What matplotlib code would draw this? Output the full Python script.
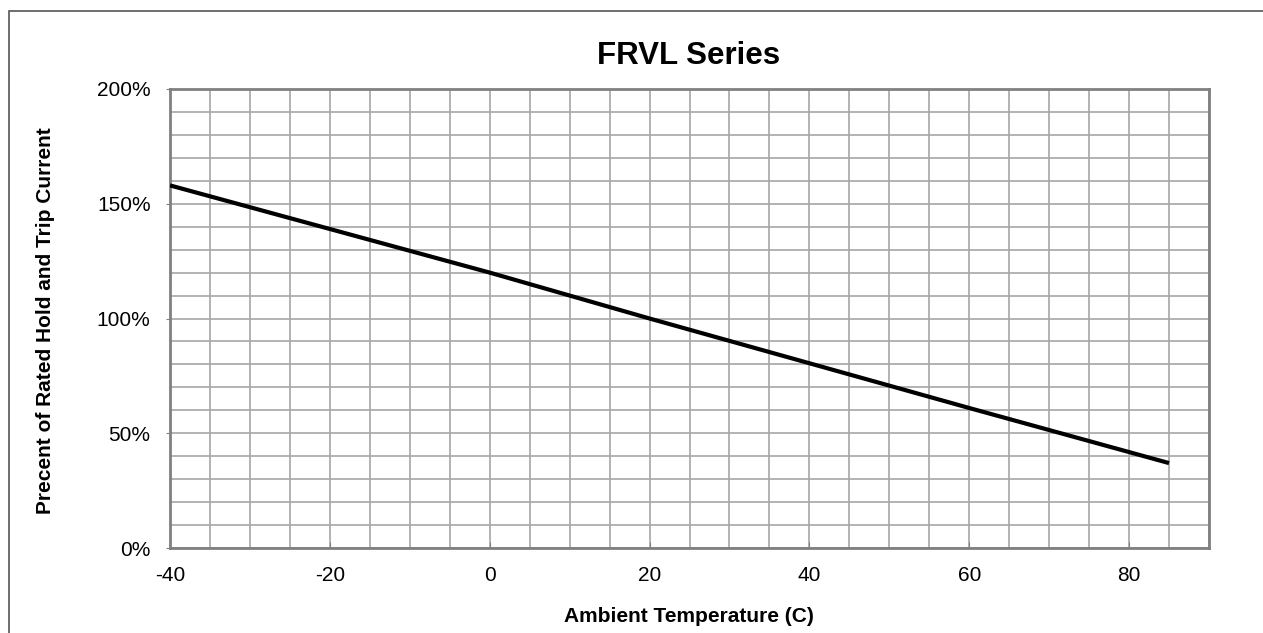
import matplotlib
matplotlib.use("Agg")
from matplotlib import pyplot as plt
from matplotlib.patches import Rectangle

plt.rcParams['font.family'] = ['Liberation Sans', 'DejaVu Sans']
plt.rcParams['axes.unicode_minus'] = False

# data
temps = [-40, -20, 0, 20, 40, 60, 85]
percent = [158, 139, 120, 100, 80.5, 61, 37]

xticks = [-40, -20, 0, 20, 40, 60, 80]
yticks = [0, 50, 100, 150, 200]
ytick_labels = ["0%", "50%", "100%", "150%", "200%"]

fig = plt.figure(figsize=(12.63, 6.33), dpi=100)
ax = fig.add_axes([170/1263, 1-548/633, (1209-170)/1263, (548-89)/633])

# outer frame (cropped on right and bottom)
fig.patches.append(Rectangle((9/1263, -0.1), 1.2, 1-11/633+0.1, transform=fig.transFigure,
                             fill=False, edgecolor='#555555', linewidth=1.2))

ax.plot(temps, percent, color='black', linewidth=3, solid_capstyle='butt', zorder=3)

ax.set_xlim(-40, 90)
ax.set_ylim(0, 200)
ax.set_xticks(xticks)
ax.set_xticks(range(-40, 91, 5), minor=True)
ax.set_yticks(yticks)
ax.set_yticklabels(ytick_labels)
ax.set_yticks(range(0, 201, 10), minor=True)
ax.grid(which='both', color='#a6a6a6', linewidth=1.2)
ax.set_axisbelow(True)

for s in ax.spines.values():
    s.set_color('#808080')
    s.set_linewidth(2)

ax.tick_params(axis='both', which='minor', length=0)
ax.tick_params(axis='y', which='major', direction='out', length=3, color='#808080', labelsize=15, pad=11)
ax.tick_params(axis='x', which='major', direction='in', length=4, color='#808080', labelsize=15, pad=13)

fig.text(689/1263, 1-56/633, "FRVL Series", ha='center', va='center', fontsize=22.5, fontweight='bold')
fig.text(689/1263, 1-616/633, "Ambient Temperature (C)", ha='center', va='center', fontsize=15, fontweight='bold')
fig.text(46/1263, 1-321/633, "Precent of Rated Hold and Trip Current", ha='center', va='center',
         rotation=90, fontsize=15, fontweight='bold')

fig.savefig("out.png", dpi=100)
